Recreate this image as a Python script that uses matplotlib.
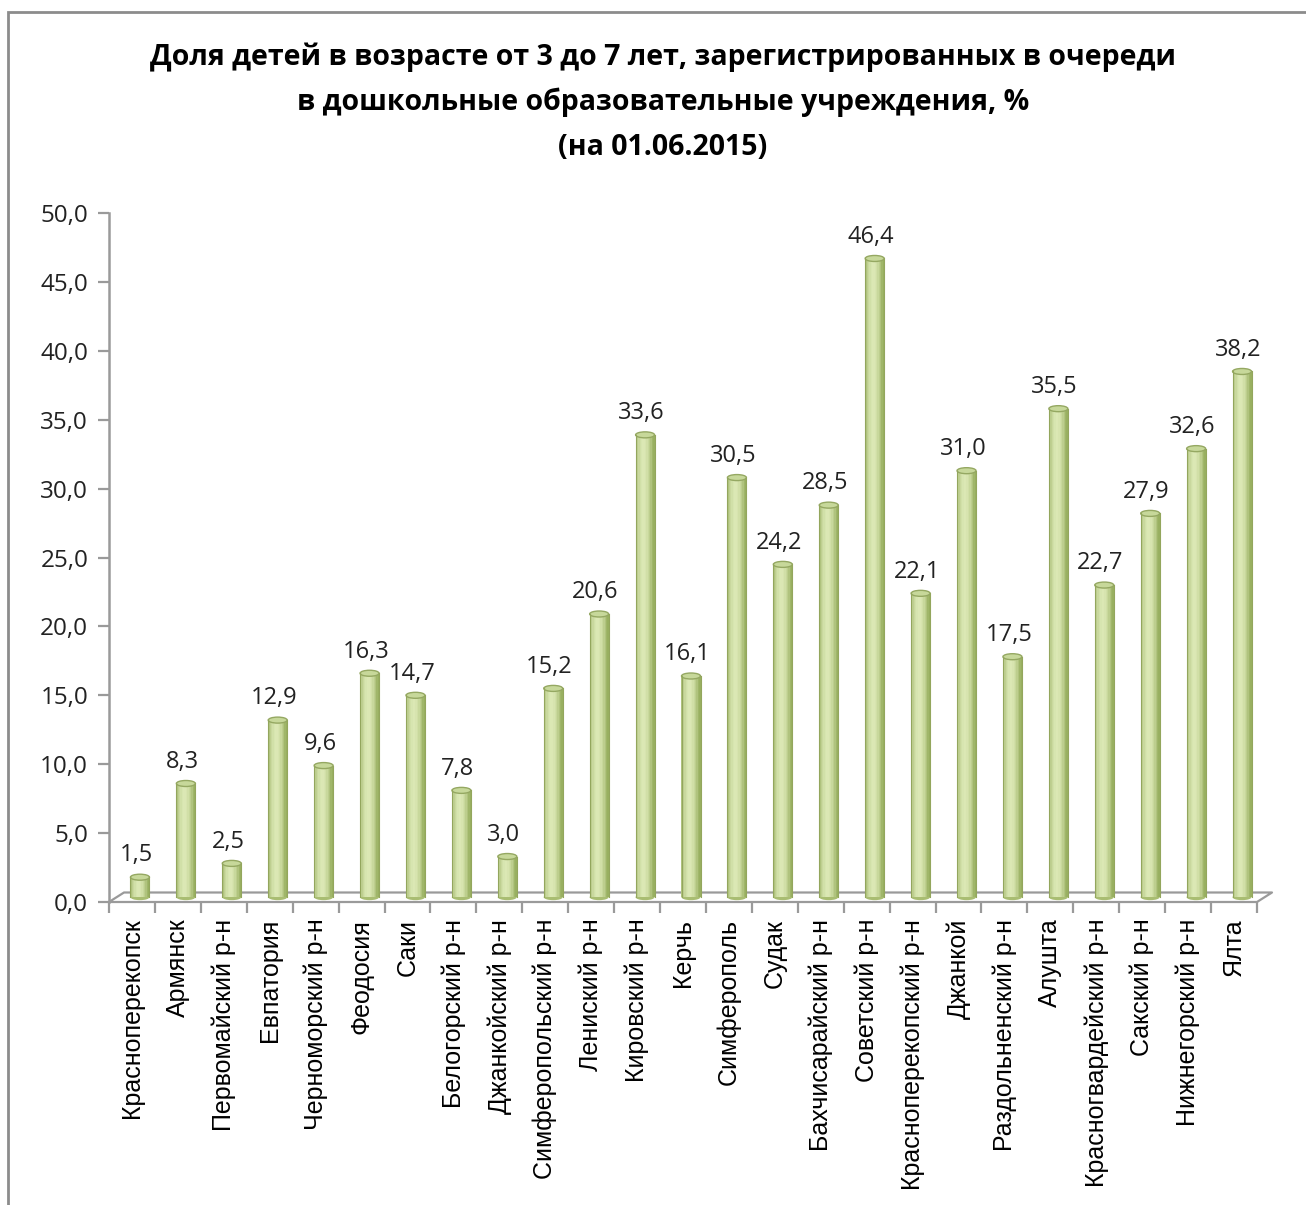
import matplotlib
matplotlib.use('Agg')
import matplotlib.pyplot as plt
import numpy as np
from matplotlib.patches import Ellipse, Rectangle

# data
districts = ['Красноперекопск', 'Армянск', 'Первомайский р-н', 'Евпатория',
             'Черноморский р-н', 'Феодосия', 'Саки', 'Белогорский р-н',
             'Джанкойский р-н', 'Симферопольский р-н', 'Лениский р-н',
             'Кировский р-н', 'Керчь', 'Симферополь', 'Судак',
             'Бахчисарайский р-н', 'Советский р-н', 'Красноперекопский р-н',
             'Джанкой', 'Раздольненский р-н', 'Алушта',
             'Красногвардейский р-н', 'Сакский р-н', 'Нижнегорский р-н', 'Ялта']
share = [1.5, 8.3, 2.5, 12.9, 9.6, 16.3, 14.7, 7.8, 3.0, 15.2, 20.6, 33.6, 16.1,
         30.5, 24.2, 28.5, 46.4, 22.1, 31.0, 17.5, 35.5, 22.7, 27.9, 32.6, 38.2]
yticks = np.arange(0, 50.1, 5)

title = ('Доля детей в возрасте от 3 до 7 лет, зарегистрированных в очереди\n'
         'в дошкольные образовательные учреждения, %\n'
         '(на 01.06.2015)')

W, H = 1306, 1205
fig = plt.figure(figsize=(W / 100, H / 100), dpi=100)
fig.patch.set_facecolor('white')

# outer chart frame (only left and top edges visible)
fig.add_artist(Rectangle((8 / W, -0.1), 1.2, (H - 12) / H + 0.1,
                         transform=fig.transFigure, fill=False,
                         edgecolor='#8c8c8c', linewidth=2))

ax_l, ax_r, ax_b, ax_t = 109, 1257, 902, 213
ax = fig.add_axes([ax_l / W, (H - ax_b) / H, (ax_r - ax_l) / W, (ax_b - ax_t) / H])
n = len(share)
ax.set_xlim(-0.5, n - 0.5)
ax.set_ylim(0, 50)
for s in ax.spines.values():
    s.set_visible(False)

pxx = (ax_r - ax_l) / n
pxy = (ax_b - ax_t) / 50.0
dx, dy = 15 / pxx, 9.5 / pxy   # depth of the floor in data units
grey = '#9a9a9a'

# floor of the 3d plot
fx = [-0.5, n - 0.5, n - 0.5 + dx, -0.5 + dx, -0.5]
fy = [0, 0, dy, dy, 0]
ax.plot(fx, fy, color=grey, lw=1.6, clip_on=False, zorder=1)
ax.plot([-0.5, -0.5], [0, 50], color=grey, lw=1.8, clip_on=False, zorder=1)

# value axis ticks / labels
ax.set_yticks(yticks)
ax.set_yticklabels([('%.1f' % v).replace('.', ',') for v in yticks])
ax.tick_params(axis='y', length=8, width=1.6, color=grey, pad=7,
               labelsize=17.5, labelcolor='#222222')
for lb in ax.get_yticklabels():
    lb.set_family(['Open Sans', 'DejaVu Sans'])

ax.set_xticks(np.arange(n + 1) - 0.5, minor=True)
ax.set_xticks(np.arange(n))
ax.set_xticklabels(districts, rotation=90, fontsize=18,
                   family=['Liberation Sans', 'DejaVu Sans'])
ax.tick_params(axis='x', which='major', length=0, pad=12)
ax.tick_params(axis='x', which='minor', length=8, width=1.6, color=grey)

# cylindrical bars: strips of a shaded gradient plus elliptical top
off = 8 / pxx
bw = 19 / pxx
base = 0.35
nstrip = 14
light = np.array([0.86, 0.91, 0.71])
dark = np.array([0.60, 0.69, 0.38])
edges = np.linspace(-bw / 2, bw / 2, nstrip + 1)
centers = (edges[:-1] + edges[1:]) / 2
xs = np.arange(n) + off
tops = np.array(share) + 0.3
for c in centers:
    t = c / (bw / 2)
    k = np.clip(np.abs(t + 0.15) ** 1.8, 0, 1)
    col = light * (1 - k) + dark * k
    ax.bar(xs + c, tops - base, bottom=base, width=bw / nstrip * 1.05,
           color=col, linewidth=0, zorder=3)
eh = 6 / pxy
for x, t in zip(xs, tops):
    ax.add_patch(Ellipse((x, base), bw, eh, facecolor='#a9bd72',
                         edgecolor='none', zorder=2.9))
    ax.add_patch(Ellipse((x, t), bw, eh, facecolor='#c7d89a',
                         edgecolor='#95a862', lw=1.0, zorder=4))
    ax.plot([x - bw / 2, x - bw / 2], [base, t], color='#93a65d', lw=0.8, zorder=4)
    ax.plot([x + bw / 2, x + bw / 2], [base, t], color='#93a65d', lw=0.8, zorder=4)

# value labels
for x, v, t in zip(xs, share, tops):
    ax.annotate(('%.1f' % v).replace('.', ','), (x - 0.08, t),
                xytext=(0, 7), textcoords='offset points', ha='center',
                va='bottom', fontsize=17, color='#222222',
                family=['Open Sans', 'DejaVu Sans'], zorder=5)

fig.text(663 / W, 1 - 42 / H, title, ha='center', va='top', fontsize=20.5,
         fontweight='bold', linespacing=1.72,
         family=['Open Sans', 'DejaVu Sans'])

fig.savefig('out.png', dpi=100, facecolor='white')
